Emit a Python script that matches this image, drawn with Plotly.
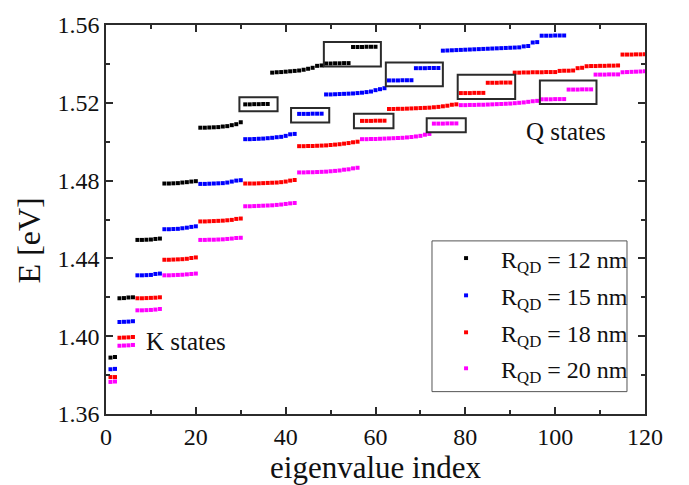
import plotly.graph_objects as go

# ---------------- data ----------------
e_r12 = [
    1.3890, 1.3893,
    1.4195, 1.4196, 1.4199, 1.4200,
    1.4495, 1.4495, 1.4496, 1.4497, 1.4500, 1.4502,
    1.4785, 1.4785, 1.4786, 1.4787, 1.4790, 1.4792, 1.4795, 1.4797,
    1.5072, 1.5072, 1.5073, 1.5074, 1.5075, 1.5078, 1.5080, 1.5085, 1.5090, 1.5100,
    1.5192, 1.5192, 1.5193, 1.5193, 1.5194, 1.5194,
    1.5355, 1.5357, 1.5358, 1.5360, 1.5362, 1.5364, 1.5366, 1.5370, 1.5375, 1.5380, 1.5390, 1.5392,
    1.5402, 1.5402, 1.5403, 1.5403, 1.5404, 1.5404,
    1.5487, 1.5487, 1.5487, 1.5488, 1.5488, 1.5488,
]

e_r15 = [
    1.3830, 1.3832,
    1.4073, 1.4074, 1.4075, 1.4077,
    1.4313, 1.4313, 1.4314, 1.4315, 1.4320, 1.4322,
    1.4550, 1.4550, 1.4551, 1.4552, 1.4555, 1.4558, 1.4562, 1.4565,
    1.4783, 1.4783, 1.4784, 1.4785, 1.4786, 1.4787, 1.4790, 1.4795, 1.4800, 1.4802,
    1.5013, 1.5013, 1.5014, 1.5015, 1.5016, 1.5018, 1.5020, 1.5023, 1.5025, 1.5030, 1.5038, 1.5040,
    1.5143, 1.5143, 1.5143, 1.5144, 1.5144, 1.5144,
    1.5243, 1.5243, 1.5244, 1.5245, 1.5246, 1.5247, 1.5248, 1.5250, 1.5252, 1.5255, 1.5258, 1.5265, 1.5270, 1.5275,
    1.5315, 1.5315, 1.5315, 1.5316, 1.5316, 1.5316,
    1.5378, 1.5378, 1.5378, 1.5379, 1.5379, 1.5379,
    1.5468, 1.5469, 1.5470, 1.5471, 1.5472, 1.5473, 1.5474, 1.5475, 1.5476, 1.5477,
    1.5478, 1.5479, 1.5480, 1.5481, 1.5482, 1.5483, 1.5484, 1.5485, 1.5490, 1.5492,
    1.5510, 1.5512,
    1.5545, 1.5545, 1.5545, 1.5546, 1.5546, 1.5546,
]

e_r18 = [
    1.3790, 1.3790,
    1.3992, 1.3993, 1.3994, 1.3996,
    1.4195, 1.4195, 1.4196, 1.4197, 1.4198, 1.4200,
    1.4393, 1.4393, 1.4394, 1.4395, 1.4396, 1.4398, 1.4402, 1.4405,
    1.4590, 1.4590, 1.4591, 1.4592, 1.4593, 1.4594, 1.4596, 1.4598, 1.4603, 1.4605,
    1.4785, 1.4785, 1.4785, 1.4786, 1.4787, 1.4788, 1.4789, 1.4790, 1.4792, 1.4795, 1.4800, 1.4803,
    1.4977, 1.4977, 1.4978, 1.4978, 1.4979, 1.4980, 1.4981, 1.4983, 1.4985, 1.4987, 1.4990, 1.4993, 1.4997, 1.5000,
    1.5107, 1.5107, 1.5107, 1.5108, 1.5108, 1.5108,
    1.5168, 1.5168, 1.5169, 1.5169, 1.5170, 1.5171, 1.5172, 1.5173, 1.5174, 1.5175,
    1.5177, 1.5179, 1.5182, 1.5185, 1.5190, 1.5192,
    1.5250, 1.5250, 1.5250, 1.5251, 1.5251, 1.5251,
    1.5303, 1.5303, 1.5303, 1.5304, 1.5304, 1.5304,
    1.5355, 1.5355, 1.5356, 1.5356, 1.5357, 1.5357, 1.5357, 1.5358, 1.5358, 1.5358,
    1.5364, 1.5365, 1.5365, 1.5366, 1.5378, 1.5380,
    1.5388, 1.5389, 1.5389, 1.5390, 1.5390, 1.5391, 1.5391, 1.5392,
    1.5448, 1.5448, 1.5448, 1.5449, 1.5449, 1.5449,
]

e_r20 = [
    1.3765, 1.3767,
    1.3951, 1.3952, 1.3953, 1.3955,
    1.4133, 1.4133, 1.4134, 1.4135, 1.4137, 1.4140,
    1.4313, 1.4313, 1.4314, 1.4315, 1.4316, 1.4318, 1.4320, 1.4322,
    1.4495, 1.4495, 1.4496, 1.4496, 1.4497, 1.4498, 1.4500, 1.4502, 1.4505, 1.4506,
    1.4668, 1.4668, 1.4669, 1.4670, 1.4671, 1.4672, 1.4673, 1.4675, 1.4677, 1.4680, 1.4683, 1.4685,
    1.4842, 1.4842, 1.4843, 1.4843, 1.4844, 1.4845, 1.4846, 1.4848, 1.4850, 1.4852, 1.4856, 1.4858, 1.4863, 1.4866,
    1.5013, 1.5013, 1.5014, 1.5014, 1.5015, 1.5016, 1.5017, 1.5018, 1.5019, 1.5020,
    1.5022, 1.5024, 1.5027, 1.5030, 1.5036, 1.5040,
    1.5093, 1.5093, 1.5093, 1.5094, 1.5094, 1.5094,
    1.5188, 1.5188, 1.5189, 1.5189, 1.5190, 1.5190, 1.5191, 1.5192, 1.5193, 1.5194,
    1.5195, 1.5196, 1.5198, 1.5200, 1.5202, 1.5205, 1.5208, 1.5210,
    1.5218, 1.5218, 1.5218, 1.5219, 1.5219, 1.5219,
    1.5268, 1.5268, 1.5268, 1.5269, 1.5269, 1.5269,
    1.5345, 1.5345, 1.5345, 1.5346, 1.5346, 1.5346,
    1.5357, 1.5358, 1.5359, 1.5360, 1.5361, 1.5362,
]

series_names = ["R<sub>QD</sub> = 12 nm", "R<sub>QD</sub> = 15 nm",
                "R<sub>QD</sub> = 18 nm", "R<sub>QD</sub> = 20 nm"]
series_values = [e_r12, e_r15, e_r18, e_r20]
series_colors = ["#000000", "#0000ff", "#ff0000", "#ff00ff"]

# highlighted groups: (x0, x1, y0, y1) in data units
box_x0 = [29.7, 41.2, 48.5, 55.2, 62.3, 71.4, 78.3, 96.6]
box_x1 = [38.2, 49.7, 61.2, 64.0, 75.0, 80.1, 91.1, 109.2]
box_y0 = [1.5157, 1.5099, 1.5387, 1.5069, 1.5285, 1.5049, 1.5220, 1.5194]
box_y1 = [1.5229, 1.5173, 1.5512, 1.5144, 1.5407, 1.5120, 1.5344, 1.5315]

FONT = "Liberation Serif, Times New Roman, serif"
AX = "#2b2b2b"
TXT = "#111111"

L, R, T, B = 106, 44, 18, 67
W, H = 689, 485
pw, ph = W - L - R, H - T - B

fig = go.Figure()
for name, vals, col in zip(series_names, series_values, series_colors):
    fig.add_trace(go.Scatter(
        x=list(range(1, len(vals) + 1)), y=vals, mode="markers", name=name,
        showlegend=False,
        marker=dict(symbol="square", size=4, color=col, line=dict(width=0)),
    ))

for x0, x1, y0, y1 in zip(box_x0, box_x1, box_y0, box_y1):
    fig.add_shape(type="rect", xref="x", yref="y", x0=x0, x1=x1, y0=y0, y1=y1,
                  line=dict(color=AX, width=2), fillcolor="rgba(0,0,0,0)")

fig.add_annotation(x=17.9, y=1.3975, xref="x", yref="y", text="K states",
                   showarrow=False, font=dict(family=FONT, size=25, color=TXT))
fig.add_annotation(x=102.4, y=1.5050, xref="x", yref="y", text="Q states",
                   showarrow=False, font=dict(family=FONT, size=25, color=TXT))

# ---- legend (drawn as a framed key in paper coordinates) ----
fig.add_shape(type="rect", xref="paper", yref="paper",
              x0=0.6048, x1=0.9666, y0=0.0575, y1=0.445,
              line=dict(color="#555555", width=1), fillcolor="white", layer="above")
leg_rows = [0.4008, 0.3050, 0.2100, 0.1175]
mx, mw, mh = 0.668, 0.0074, 0.010
for name, col, yr in zip(series_names, series_colors, leg_rows):
    fig.add_shape(type="rect", xref="paper", yref="paper",
                  x0=mx - mw / 2, x1=mx + mw / 2, y0=yr - mh / 2, y1=yr + mh / 2,
                  line=dict(width=0), fillcolor=col, layer="above")
    fig.add_annotation(x=0.7291, y=yr, xref="paper", yref="paper", text=name,
                       xanchor="left", yanchor="middle", yshift=-4, showarrow=False,
                       font=dict(family=FONT, size=24, color=TXT))

# y axis title as rotated text, centred at pixel (29, 239.5)
fig.add_annotation(x=(29 - L) / pw, y=(H - B - 239.5) / ph, xref="paper", yref="paper",
                   xanchor="center", yanchor="middle",
                   text="E [eV]", textangle=-90, showarrow=False,
                   font=dict(family=FONT, size=32, color=TXT))

axis_common = dict(
    showline=True, linecolor=AX, linewidth=1.5, mirror="allticks",
    ticks="inside", ticklen=7, tickwidth=1.5, tickcolor=AX,
    showgrid=False, zeroline=False,
    tickfont=dict(family=FONT, size=24, color=TXT),
)

fig.update_xaxes(range=[0, 120], dtick=20, tick0=0,
                 minor=dict(dtick=10, ticks="inside", ticklen=4, tickwidth=1.5, tickcolor=AX),
                 title=dict(text="eigenvalue index", font=dict(family=FONT, size=31, color=TXT),
                            standoff=2),
                 **axis_common)
fig.update_yaxes(range=[1.36, 1.56], dtick=0.04, tick0=1.36, tickformat=".2f",
                 minor=dict(dtick=0.02, ticks="inside", ticklen=4, tickwidth=1.5, tickcolor=AX),
                 **axis_common)

fig.update_layout(
    width=W, height=H,
    margin=dict(l=L, r=R, t=T, b=B),
    paper_bgcolor="white", plot_bgcolor="white",
    showlegend=False,
)

fig.write_html("out.html")
